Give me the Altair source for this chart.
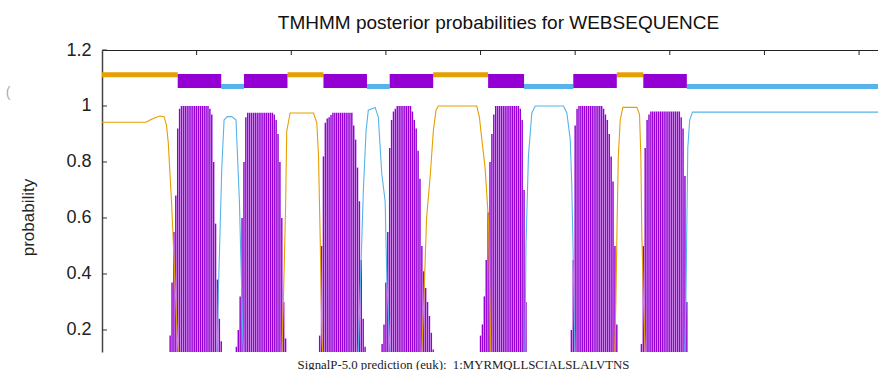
import altair as alt
import pandas as pd

# ---------------- data ----------------
title_text = "TMHMM posterior probabilities for WEBSEQUENCE"
signalp_text = "SignalP-5.0 prediction (euk):\u00a0 1:MYRMQLLSCIALSLALVTNS"

# predicted topology (residue positions)
seg_start = [0, 40, 63, 75, 98, 117, 140, 152, 175, 204, 223, 249, 272, 286, 309]
seg_end = [40, 63, 75, 98, 117, 140, 152, 175, 204, 223, 249, 272, 286, 309, 410]
seg_type = ["outside", "TMhelix", "inside", "TMhelix", "outside", "TMhelix", "inside",
            "TMhelix", "outside", "TMhelix", "inside", "TMhelix", "outside", "TMhelix", "inside"]

# TM helix posterior probability (impulses), per residue
tm1_res = list(range(36, 64))
tm1_prob = [0.18, 0.37, 0.55, 0.68, 0.92, 0.99, 1.0, 1.0, 1.0, 1.0, 1.0, 1.0, 1.0, 1.0,
            1.0, 1.0, 1.0, 1.0, 1.0, 1.0, 1.0, 0.99, 0.97, 0.80, 0.58, 0.38, 0.24, 0.16]
tm2_res = list(range(71, 98))
tm2_prob = [0.14, 0.20, 0.32, 0.60, 0.80, 0.96, 0.976, 0.976, 0.976, 0.976, 0.976, 0.976,
            0.976, 0.976, 0.976, 0.976, 0.976, 0.976, 0.976, 0.976, 0.97, 0.95, 0.90,
            0.80, 0.60, 0.30, 0.17]
tm3_res = list(range(115, 140))
tm3_prob = [0.18, 0.50, 0.82, 0.94, 0.955, 0.96, 0.968, 0.976, 0.976, 0.976, 0.976, 0.976,
            0.976, 0.976, 0.976, 0.976, 0.976, 0.976, 0.93, 0.88, 0.78, 0.66, 0.45, 0.24, 0.14]
tm4_res = list(range(148, 176))
tm4_prob = [0.15, 0.22, 0.37, 0.55, 0.85, 0.95, 0.98, 0.99, 1.0, 1.0, 1.0, 1.0, 1.0, 1.0,
            1.0, 1.0, 0.98, 0.95, 0.92, 0.84, 0.74, 0.50, 0.41, 0.35, 0.30, 0.25, 0.19, 0.13]
tm5_res = list(range(200, 225))
tm5_prob = [0.18, 0.22, 0.32, 0.45, 0.62, 0.80, 0.90, 0.97, 1.0, 1.0, 1.0, 1.0, 1.0, 1.0,
            1.0, 1.0, 1.0, 1.0, 1.0, 1.0, 1.0, 0.99, 0.95, 0.70, 0.30]
tm6_res = list(range(248, 273))
tm6_prob = [0.20, 0.45, 0.93, 0.99, 1.0, 1.0, 1.0, 1.0, 1.0, 1.0, 1.0, 1.0, 1.0, 1.0,
            1.0, 1.0, 1.0, 0.99, 0.97, 0.95, 0.90, 0.82, 0.73, 0.50, 0.22]
tm7_res = list(range(285, 310))
tm7_prob = [0.15, 0.50, 0.85, 0.95, 0.97, 0.98, 0.98, 0.98, 0.98, 0.98, 0.98, 0.98, 0.98,
            0.98, 0.98, 0.98, 0.98, 0.98, 0.98, 0.98, 0.98, 0.96, 0.92, 0.75, 0.30]

# outside probability (line)
out_res = [0, 23.3, 25.4, 28, 30.7, 32.8, 34.1, 35, 36.8, 38, 39.5, 41,
           94.5, 96, 97, 97.6, 99.4, 111.7, 113.5, 114.4, 115.3, 116.2, 117.5,
           168.5, 169, 170, 170.7, 171.5, 173.4, 175.1, 176.5, 177.7, 198, 199.4,
           200.7, 202.4, 204.2, 204.7, 205.4, 206,
           270.5, 271.5, 272.2, 272.8, 273.8, 275.2, 282.6, 284, 284.7, 285.2,
           286.1, 287, 288, 410]
out_prob = [0.942, 0.942, 0.95, 0.958, 0.964, 0.962, 0.93, 0.87, 0.65, 0.46, 0.22, 0.0,
            0.0, 0.35, 0.64, 0.91, 0.975, 0.975, 0.94, 0.82, 0.52, 0.17, 0.0,
            0.0, 0.13, 0.30, 0.44, 0.60, 0.75, 0.914, 0.986, 1.0, 1.0, 0.96,
            0.88, 0.78, 0.59, 0.39, 0.13, 0.0,
            0.0, 0.30, 0.60, 0.82, 0.95, 0.995, 0.995, 0.97, 0.82, 0.55,
            0.30, 0.13, 0.0, 0.0]

# inside probability (line)
in_res = [0, 60.5, 61.5, 63.3, 64.5, 66.2, 68.6, 70.8, 72.6, 73.8, 74.4, 75.5,
          134.5, 135.5, 138.1, 139.5, 140.7, 144.3, 146, 147.8, 149.6, 150.5, 152.2, 153.5,
          222.5, 223.5, 224, 225.3, 227.1, 228.9, 243.8, 245.6, 247.4, 248.2, 248.8, 249.5, 250.5,
          307.5, 308.5, 309.5, 310.5, 312, 410]
in_prob = [0.0, 0.0, 0.34, 0.78, 0.95, 0.962, 0.962, 0.95, 0.66, 0.34, 0.176, 0.0,
           0.0, 0.15, 0.70, 0.91, 0.985, 0.995, 0.96, 0.76, 0.66, 0.38, 0.12, 0.0,
           0.0, 0.13, 0.50, 0.82, 0.975, 1.0, 1.0, 0.975, 0.88, 0.72, 0.52, 0.23, 0.0,
           0.0, 0.30, 0.85, 0.95, 0.978, 0.978]

x_ticks = [50, 100, 150, 200, 250, 300, 350, 400]
y_ticks = [0.2, 0.4, 0.6, 0.8, 1.0, 1.2]

# ---------------- tables ----------------
tm_df = pd.DataFrame({
    "res": tm1_res + tm2_res + tm3_res + tm4_res + tm5_res + tm6_res + tm7_res,
    "prob": tm1_prob + tm2_prob + tm3_prob + tm4_prob + tm5_prob + tm6_prob + tm7_prob,
})
out_df = pd.DataFrame({"res": out_res, "prob": out_prob})
in_df = pd.DataFrame({"res": in_res, "prob": in_prob})
seg_df = pd.DataFrame({"start": seg_start, "end": seg_end, "type": seg_type})
xt_df = pd.DataFrame({"t": x_ticks})
yt_df = pd.DataFrame({"v": y_ticks})

PURPLE = "#9400d3"
ORANGE = "#e69f00"
BLUE = "#56b4e9"
FONT = "Liberation Sans"

xs = alt.Scale(domain=[0, 410], nice=False, zero=False)
ys = alt.Scale(domain=[0.1214, 1.2], nice=False, zero=False)

xaxis = alt.Axis(orient="top", labels=False, ticks=False, grid=False,
                 domainColor="#222", domainWidth=1,
                 title=title_text, titleFont=FONT, titleFontSize=19,
                 titleFontWeight="normal", titleColor="#111",
                 titleX=396, titleY=-21.5, titleAlign="center",
                 titleBaseline="alphabetic")
yaxis = alt.Axis(orient="left", values=y_ticks, format=".1~f", tickSize=0,
                 labelPadding=11, labelFont=FONT, labelFontSize=18, labelColor="#222",
                 domainColor="#444", domainWidth=1.5, grid=False,
                 title="probability", titleFont=FONT, titleFontSize=17,
                 titleFontWeight="normal", titleColor="#222",
                 titleX=-74, titleY=167, titleAngle=270, titleAlign="center",
                 titleBaseline="middle")

X = lambda f: alt.X(f, type="quantitative", scale=xs, axis=xaxis)
Y = lambda f: alt.Y(f, type="quantitative", scale=ys, axis=yaxis)

impulses = alt.Chart(tm_df).mark_rule(color=PURPLE, strokeWidth=1.45, clip=True).encode(
    x=X("res"), y=Y("prob"), y2=alt.datum(0))

out_line = alt.Chart(out_df).mark_line(color=ORANGE, strokeWidth=1.1, clip=True).encode(
    x=X("res"), y=Y("prob"))
in_line = alt.Chart(in_df).mark_line(color=BLUE, strokeWidth=1.1, clip=True).encode(
    x=X("res"), y=Y("prob"))

seg_out = alt.Chart(seg_df).transform_filter(alt.datum.type == "outside").mark_rect(
    color=ORANGE, clip=True).encode(
    x=X("start"), x2="end", y=alt.datum(1.1025), y2=alt.datum(1.1204))
seg_in = alt.Chart(seg_df).transform_filter(alt.datum.type == "inside").mark_rect(
    color=BLUE, clip=True).encode(
    x=X("start"), x2="end", y=alt.datum(1.0607), y2=alt.datum(1.0786))
seg_tm = alt.Chart(seg_df).transform_filter(alt.datum.type == "TMhelix").mark_rect(
    color=PURPLE, clip=True).encode(
    x=X("start"), x2="end", y=alt.datum(1.0643), y2=alt.datum(1.1143))

xtick_marks = alt.Chart(xt_df).mark_rule(color="#222", strokeWidth=1).encode(
    x=X("t"), y=alt.value(0), y2=alt.value(5))
ytick_marks = alt.Chart(yt_df).mark_rule(color="#333", strokeWidth=1).encode(
    y=Y("v"), x=alt.value(0), x2=alt.value(5))

signalp = alt.Chart(pd.DataFrame({"t": [signalp_text]})).mark_text(
    font="Liberation Serif", fontSize=12.8, color="#222", align="center",
    baseline="alphabetic").encode(text="t:N", x=alt.value(361.5), y=alt.value(318.5))

paren = alt.Chart(pd.DataFrame({"t": ["("]})).mark_text(
    font=FONT, fontSize=14, color="#aaa", align="center", baseline="middle").encode(
    text="t:N", x=alt.value(-94), y=alt.value(43))

chart = alt.layer(
    impulses, out_line, in_line, seg_out, seg_in, seg_tm, xtick_marks, ytick_marks,
    signalp, paren
).properties(
    width=776, height=302,
    autosize=alt.AutoSizeParams(type="none"),
    padding={"left": 102, "top": 50, "right": 0, "bottom": 18},
    background="white",
).configure_view(strokeWidth=0)

chart.save("out.html", embed_options={"renderer": "svg", "actions": False})
